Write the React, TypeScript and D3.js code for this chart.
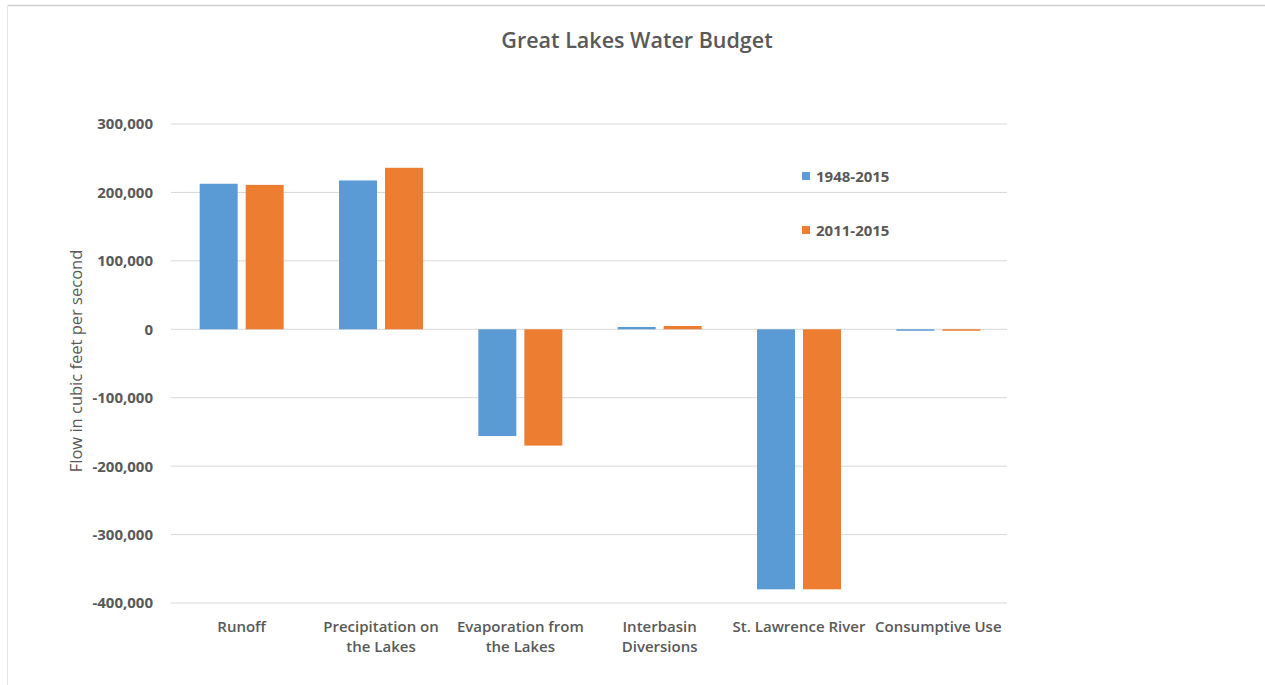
import React from "react";
import * as d3 from "d3";

const categories = [
  ["Runoff"],
  ["Precipitation on", "the Lakes"],
  ["Evaporation from", "the Lakes"],
  ["Interbasin", "Diversions"],
  ["St. Lawrence River"],
  ["Consumptive Use"],
];
const seriesNames = ["1948-2015", "2011-2015"];
const series1948 = [212700, 217500, -156000, 3400, -380000, -1500];
const series2011 = [211000, 236000, -170000, 4800, -380000, -1500];
const yTicks = [300000, 200000, 100000, 0, -100000, -200000, -300000, -400000];
const colors = ["#5B9BD5", "#ED7D31"];

const W = 1265;
const H = 685;
const plotLeft = 171;
const plotRight = 1007;

export default function App() {
  const keys = categories.map((c) => c.join(" "));
  const y = d3.scaleLinear().domain([-400000, 300000]).range([603, 124]);
  const x0 = d3.scaleBand<string>().domain(keys).range([plotLeft, plotRight]).padding(0);
  const groupW = 84;
  const x1 = d3.scaleBand<string>().domain(seriesNames).range([0, groupW]).paddingInner(0.174);
  const fmt = (v: number) => d3.format(",")(v).replace("\u2212", "-");
  const data = [series1948, series2011];
  const textColor = "#595959";
  const font = "'Open Sans', sans-serif";

  return (
    <svg width={W} height={H} style={{ position: "absolute", left: 0, top: 0, background: "#fff" }} fontFamily={font}>
      <rect x={0} y={0} width={W} height={H} fill="#fff" />
      <line x1={7.5} y1={5.5} x2={W} y2={5.5} stroke="#d0d0d0" strokeWidth={1.5} />
      <line x1={7.5} y1={5.5} x2={7.5} y2={H} stroke="#e6e6e6" strokeWidth={1} />
      <text x={637} y={48} textAnchor="middle" fontSize={21.5} fontWeight={600} fill={textColor}>
        Great Lakes Water Budget
      </text>
      {yTicks.map((t) => (
        <g key={t}>
          <line x1={plotLeft} x2={plotRight} y1={y(t)} y2={y(t)} stroke="#d9d9d9" strokeWidth={1} />
          <text x={153} y={y(t)} dy="0.36em" textAnchor="end" fontSize={15} fontWeight={700} fill={textColor}>
            {fmt(t)}
          </text>
        </g>
      ))}
      <text
        transform={`translate(82,361) rotate(-90)`}
        textAnchor="middle"
        fontSize={16.5}
        fontWeight={400}
        fill={textColor}
      >
        Flow in cubic feet per second
      </text>
      {keys.map((k, i) => (
        <g key={k} transform={`translate(${(x0(k) as number) + (x0.bandwidth() - groupW) / 2 + 1},0)`}>
          {seriesNames.map((s, j) => {
            const v = data[j][i];
            const y0 = y(0);
            const yv = y(v);
            return (
              <rect
                key={s}
                x={x1(s) as number}
                y={Math.min(y0, yv)}
                width={x1.bandwidth()}
                height={Math.max(Math.abs(yv - y0), 1.5)}
                fill={colors[j]}
              />
            );
          })}
        </g>
      ))}
      {categories.map((lines, i) => (
        <text
          key={i}
          x={(x0(keys[i]) as number) + x0.bandwidth() / 2 + 1}
          y={632}
          textAnchor="middle"
          fontSize={15}
          fontWeight={600}
          fill={textColor}
        >
          {lines.map((l, li) => (
            <tspan key={li} x={(x0(keys[i]) as number) + x0.bandwidth() / 2 + 1} dy={li === 0 ? 0 : 20}>
              {l}
            </tspan>
          ))}
        </text>
      ))}
      {seriesNames.map((s, j) => (
        <g key={s} transform={`translate(802,${176 + j * 54})`}>
          <rect x={0} y={-4} width={8} height={8} fill={colors[j]} />
          <text x={14} y={1} dy="0.36em" fontSize={15} fontWeight={700} fill={textColor}>
            {s}
          </text>
        </g>
      ))}
    </svg>
  );
}
